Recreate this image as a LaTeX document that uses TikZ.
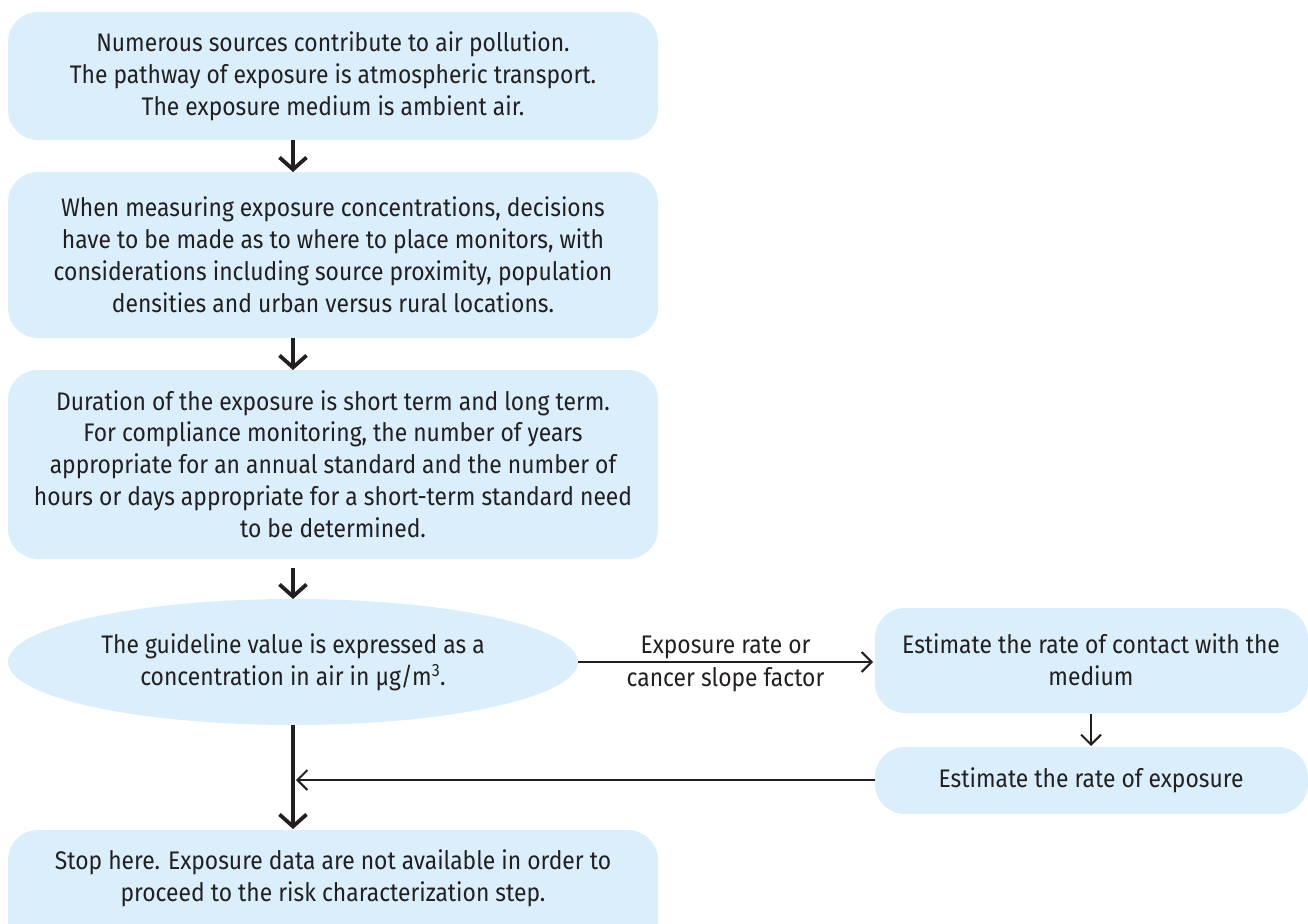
\documentclass[tikz,border=0pt]{standalone}
\usepackage{fontspec}
\setmainfont{Fira Sans}[FakeStretch=0.9]
\usetikzlibrary{arrows.meta,shapes.geometric}
\definecolor{boxfill}{HTML}{DAEFFB}
\definecolor{ink}{HTML}{231F20}
\begin{document}
\begin{tikzpicture}[x=1bp,y=-1bp,
  every node/.style={text=ink,font=\fontsize{25.5}{32}\selectfont,align=center,inner sep=0pt},
  stepbox/.style={fill=boxfill,rounded corners=30bp},
  bigarrow/.style={draw=ink,line width=3.8bp,-{Straight Barb[length=12bp,width=27bp,line width=3.8bp]}},
  smallarrow/.style={draw=ink,line width=2bp,-{Straight Barb[length=10bp,width=20bp,line width=2bp]}}]
\useasboundingbox (0,0) rectangle (1308,923);

% left column boxes
\path[stepbox] (8,12) rectangle (658,140);
\node (b1) at (333,76) {Numerous sources contribute to air pollution.\\The pathway of exposure is atmospheric transport.\\The exposure medium is ambient air.};

\path[stepbox] (8,172) rectangle (658,338);
\node (b2) at (333,255) {When measuring exposure concentrations, decisions\\have to be made as to where to place monitors, with\\considerations including source proximity, population\\densities and urban versus rural locations.};

\path[stepbox] (8,370) rectangle (658,559);
\node (b3) at (333,464) {Duration of the exposure is short term and long term.\\For compliance monitoring, the number of years\\appropriate for an annual standard and the number of\\hours or days appropriate for a short-term standard need\\to be determined.};

% guideline ellipse
\node[ellipse,fill=boxfill,minimum width=570bp,minimum height=126bp] (e) at (293,662) {};
\node (et) at (293,662) {The guideline value is expressed as a\\concentration in air in µg/m\textsuperscript{3}.};

% right column boxes
\path[stepbox] (875,608) rectangle (1308,713);
\node (r1) at (1091,660) {Estimate the rate of contact with the\\medium};

\path[stepbox] (875,747) rectangle (1308,814);
\node (r2) at (1091,780) {Estimate the rate of exposure};

% final box
\path[stepbox] (8,830) rectangle (658,960);
\node (b4) at (333,878) {Stop here. Exposure data are not available in order to\\proceed to the risk characterization step.};

% named anchor points of the connectors
\coordinate (b1s) at (293,140);
\coordinate (b2n) at (293,172);
\coordinate (b2s) at (293,338);
\coordinate (b3n) at (293,370);
\coordinate (b3s) at (293,568);
\coordinate (en) at (293,599);
\coordinate (es) at (293,725);
\coordinate (b4n) at (293,829);
\coordinate (ee) at (578,662);
\coordinate (r1w) at (873,662);
\coordinate (r1s) at (1091,714);
\coordinate (r2n) at (1091,746);
\coordinate (r2w) at (875,780);
\coordinate (jn) at (296,780);

% connectors
\draw[bigarrow] (b1s) -- (b2n);
\draw[bigarrow] (b2s) -- (b3n);
\draw[bigarrow] (b3s) -- (en);
\draw[bigarrow] (es) -- (b4n);
\draw[smallarrow] (ee) -- node[above=2bp] (lab1) {Exposure rate or} node[below=4bp] (lab2) {cancer slope factor} (r1w);
\draw[smallarrow] (r1s) -- (r2n);
\draw[smallarrow] (r2w) -- (jn);
\end{tikzpicture}
\end{document}
